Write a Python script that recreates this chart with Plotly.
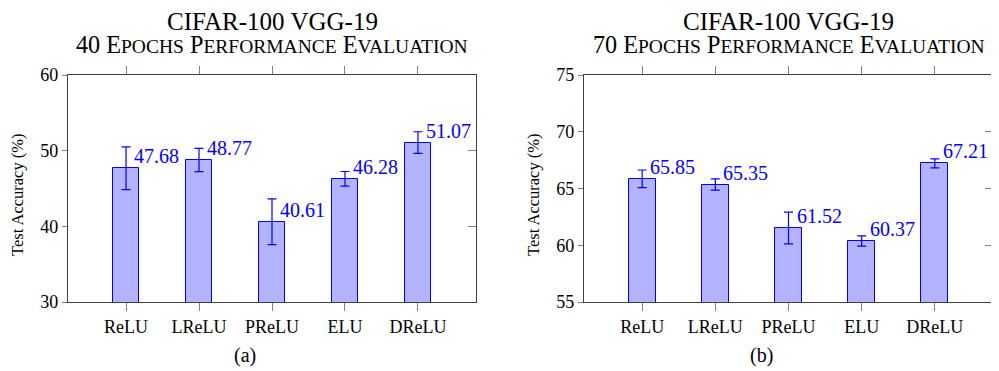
import plotly.graph_objects as go

categories = ["ReLU", "LReLU", "PReLU", "ELU", "DReLU"]
acc_40 = [47.68, 48.77, 40.61, 46.28, 51.07]
err_40 = [2.82, 1.54, 3.03, 0.97, 1.43]
acc_70 = [65.85, 65.35, 61.52, 60.37, 67.21]
err_70 = [0.78, 0.50, 1.40, 0.45, 0.40]
labels_40 = ["47.68", "48.77", "40.61", "46.28", "51.07"]
labels_70 = ["65.85", "65.35", "61.52", "60.37", "67.21"]
titles_line1 = ["CIFAR-100 VGG-19", "CIFAR-100 VGG-19"]
titles_line2 = ["40 Epochs Performance Evaluation", "70 Epochs Performance Evaluation"]
sub_labels = ["(a)", "(b)"]

# page is 999x371; the html body has an 8px margin, so the figure is made
# smaller and page coordinates are converted to figure coordinates.
PAGE_W, PAGE_H = 999, 371
OFF = 8
W, H = PAGE_W - OFF, PAGE_H - OFF


def fx(px):
    return (px - OFF) / W


def fy(py):
    return 1 - (py - OFF) / H


SERIF = "Liberation Serif"
BLUE = "#0000ff"
FILL = "#b3b3ff"
AXIS = "#404040"
TICK = "#808080"


def small_caps(text, small_px):
    out = []
    for word in text.split(" "):
        if word[0].isalpha():
            out.append(word[0].upper() +
                       f"<span style='font-size:{small_px}px'>{word[1:].upper()}</span>")
        else:
            out.append(word)
    return " ".join(out)


fig = go.Figure()

panels = [
    dict(acc=acc_40, err=err_40, lab=labels_40, xa="x", ya="y", rng=[30, 60], dt=10,
         px=(68, 476)),
    dict(acc=acc_70, err=err_70, lab=labels_70, xa="x2", ya="y2", rng=[55, 75], dt=5,
         px=(584, 993)),
]

y_dom = [fy(302), fy(75)]

for i, p in enumerate(panels):
    fig.add_trace(go.Bar(
        x=categories, y=p["acc"], xaxis=p["xa"], yaxis=p["ya"], width=0.365,
        marker=dict(color=FILL, line=dict(color=BLUE, width=1)),
        error_y=dict(type="data", array=p["err"], visible=True, color=BLUE,
                     thickness=1.2, width=4.5),
        showlegend=False, hoverinfo="skip",
    ))
    for c, v, t in zip(categories, p["acc"], p["lab"]):
        fig.add_annotation(x=c, y=v, xref=p["xa"], yref=p["ya"], text=t,
                           showarrow=False, xanchor="left", yanchor="middle",
                           xshift=6, yshift=12,
                           font=dict(family=SERIF, size=20, color=BLUE))

    x0, x1 = p["px"]
    dom = [fx(x0), fx(x1)]
    n = "" if i == 0 else "2"
    fig.layout["xaxis" + n] = dict(
        domain=dom, anchor="y" + n, range=[-0.795, 4.795], type="category",
        showline=True, linecolor=AXIS, linewidth=1.3, mirror="ticks",
        ticks="outside", ticklen=8, tickcolor=TICK, tickwidth=1,
        showgrid=False, zeroline=False, automargin=False,
        tickfont=dict(family=SERIF, size=18, color="#000"),
    )
    fig.layout["yaxis" + n] = dict(
        domain=y_dom, anchor="x" + n, range=p["rng"], dtick=p["dt"], tick0=0,
        showline=True, linecolor=AXIS, linewidth=1.3, mirror=True,
        ticks="outside", ticklen=5, tickcolor=TICK, tickwidth=1,
        showgrid=False, zeroline=False, automargin=False,
        tickfont=dict(family=SERIF, size=18, color="#000"),
    )
    m = str(3 + i)
    fig.layout["yaxis" + m] = dict(
        domain=y_dom, anchor="x" + n, overlaying="y" + n, side="right",
        range=p["rng"], dtick=p["dt"], tick0=0, showticklabels=False,
        ticks="inside", ticklen=8, tickcolor=TICK, tickwidth=1,
        showgrid=False, zeroline=False, showline=False, automargin=False,
    )
    fig.add_trace(go.Scatter(x=[None], y=[None], xaxis=p["xa"], yaxis="y" + m,
                             showlegend=False, hoverinfo="skip"))

    cx = fx((x0 + x1) / 2)
    fig.add_annotation(x=cx, y=fy(21), xref="paper", yref="paper",
                       text=titles_line1[i], showarrow=False,
                       xanchor="center", yanchor="middle",
                       font=dict(family=SERIF, size=25, color="#000"))
    fig.add_annotation(x=cx, y=fy(44), xref="paper", yref="paper",
                       text=small_caps(titles_line2[i], 19.5), showarrow=False,
                       xanchor="center", yanchor="middle",
                       font=dict(family=SERIF, size=24.2, color="#000"))
    fig.add_annotation(x=fx(x0 - 51), y=fy(195), xref="paper", yref="paper",
                       text="Test Accuracy (%)", showarrow=False, textangle=-90,
                       xanchor="center", yanchor="middle",
                       font=dict(family=SERIF, size=16.5, color="#000"))
    fig.add_annotation(x=fx(x0 + 177), y=fy(355), xref="paper", yref="paper",
                       text=sub_labels[i], showarrow=False,
                       xanchor="center", yanchor="middle",
                       font=dict(family=SERIF, size=20, color="#000"))

fig.update_layout(
    width=W, height=H, margin=dict(l=0, r=0, t=0, b=0),
    paper_bgcolor="white", plot_bgcolor="white", bargap=0,
)

fig.write_html("out.html")
